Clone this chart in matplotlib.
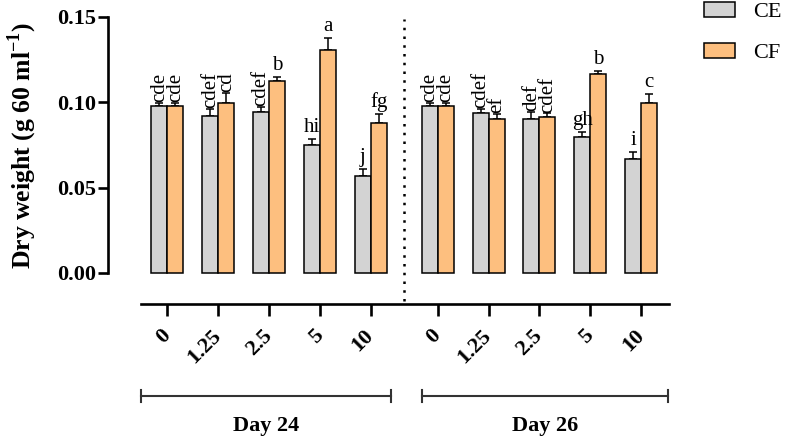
import numpy as np
import matplotlib
matplotlib.use("Agg")
import matplotlib.pyplot as plt
from matplotlib.patches import Patch

plt.rcParams['font.family'] = ['Liberation Serif', 'DejaVu Serif']
plt.rcParams['mathtext.fontset'] = 'custom'
plt.rcParams['mathtext.rm'] = 'Liberation Serif'
plt.rcParams['mathtext.bf'] = 'Liberation Serif:bold'

doses = ["0", "1.25", "2.5", "5", "10"]
days = ["Day 24", "Day 26"]

# dry weight, g 60 ml-1 (Day 24 then Day 26)
ce_mean = [0.098, 0.092, 0.0945, 0.075, 0.057, 0.098, 0.094, 0.090, 0.0795, 0.067]
ce_err = [0.0015, 0.004, 0.003, 0.0034, 0.0038, 0.0015, 0.002, 0.0043, 0.003, 0.0037]
cf_mean = [0.098, 0.0995, 0.1125, 0.1307, 0.0877, 0.098, 0.0903, 0.0912, 0.1166, 0.0998]
cf_err = [0.0015, 0.006, 0.0025, 0.007, 0.0053, 0.0015, 0.003, 0.0024, 0.002, 0.005]
ce_letters = ["cde", "cdef", "cdef", "hi", "j", "cde", "cdef", "def", "gh", "i"]
cf_letters = ["cde", "cd", "b", "a", "fg", "cde", "ef", "cdef", "b", "c"]

grey = "#D3D3D3"
orange = "#FDBF7F"

gap = 1.32
x = np.array([0, 1, 2, 3, 4, 4 + gap, 5 + gap, 6 + gap, 7 + gap, 8 + gap])
w = 0.315

fig = plt.figure(figsize=(7.86, 4.38), dpi=100)
ax = fig.add_axes([108 / 786, 1 - 304 / 438, 561 / 786, 287 / 438])

ax.bar(x - w / 2, ce_mean, w, color=grey, edgecolor="black", linewidth=1.1, zorder=2)
ax.bar(x + w / 2, cf_mean, w, color=orange, edgecolor="black", linewidth=1.1, zorder=2)
ax.errorbar(x - w / 2, ce_mean, yerr=[np.zeros(10), ce_err], fmt="none",
            ecolor="black", elinewidth=1.1, capsize=3, capthick=1.1, zorder=1)
ax.errorbar(x + w / 2, cf_mean, yerr=[np.zeros(10), cf_err], fmt="none",
            ecolor="black", elinewidth=1.1, capsize=3, capthick=1.1, zorder=1)

# significance letters: long ones are rotated as in the original
for xs, m, e, labs in [(x - w / 2, ce_mean, ce_err, ce_letters),
                       (x + w / 2, cf_mean, cf_err, cf_letters)]:
    for xi, mi, ei, lab in zip(xs, m, e, labs):
        top = mi + ei
        if lab in ("cde", "cdef", "cd", "def", "ef"):
            ax.annotate(lab, (xi, top), xytext=(0, 0.5), textcoords="offset points",
                        rotation=90, ha="center", va="bottom", fontsize=15)
        else:
            ax.annotate(lab, (xi, top), xytext=(0, 5), textcoords="offset points",
                        ha="center", va="baseline", fontsize=15)

ax.set_xlim(-1.17, 9.87)
ax.set_ylim(-0.0182, 0.15)

for s in ["top", "right"]:
    ax.spines[s].set_visible(False)
ax.spines["left"].set_bounds(0, 0.15)
ax.spines["bottom"].set_bounds(-0.52, 9.87)
ax.spines["left"].set_linewidth(1.9)
ax.spines["bottom"].set_linewidth(1.9)

ax.set_yticks([0, 0.05, 0.10, 0.15])
ax.set_yticklabels(["0.00", "0.05", "0.10", "0.15"], fontsize=16, fontweight="bold")
ax.tick_params(axis="y", length=7.5, width=1.9, pad=1)

ax.set_xticks(x)
ax.set_xticklabels(doses * 2, fontsize=16, fontweight="bold",
                   rotation=45, ha="right", va="center", rotation_mode="anchor")
ax.tick_params(axis="x", length=8.5, width=1.9, pad=12)

ax.set_ylabel("Dry weight (g 60 ml$^{\\mathbf{-1}}$)", fontsize=18.5, fontweight="bold",
              va="center")
ax.yaxis.set_label_coords(-0.153, 0.554)

# dotted separator between days
sep = 4 + gap / 2
ax.plot([sep, sep], [-0.0165, 0.149], linestyle=(0, (1, 2.5)), color="black",
        linewidth=1.8, clip_on=False)

# day brackets under the axis
tr = ax.get_xaxis_transform()
y_br = -(396 - 304) / 287
cap = 6 / 287
for (x0, x1), day in zip([(-0.52, 4.39), (5.0, 9.85)], days):
    ax.plot([x0, x1], [y_br, y_br], color="#333333", lw=1.5, transform=tr, clip_on=False)
    for xc in (x0, x1):
        ax.plot([xc, xc], [y_br - cap, y_br + cap], color="#333333", lw=1.5,
                transform=tr, clip_on=False)
    ax.text((x0 + x1) / 2, -(426 - 304) / 287, day, transform=tr, ha="center",
            va="center", fontsize=16, fontweight="bold")

handles = [Patch(facecolor=grey, edgecolor="black", linewidth=1.1),
           Patch(facecolor=orange, edgecolor="black", linewidth=1.1)]
fig.legend(handles, ["CE", "CF"], loc="upper left", bbox_to_anchor=(704 / 786, 0.996),
           frameon=False, fontsize=16, handlelength=1.4, handleheight=0.65,
           handletextpad=0.8, labelspacing=0.95, borderpad=0, borderaxespad=0)

fig.savefig("out.png", dpi=100)
